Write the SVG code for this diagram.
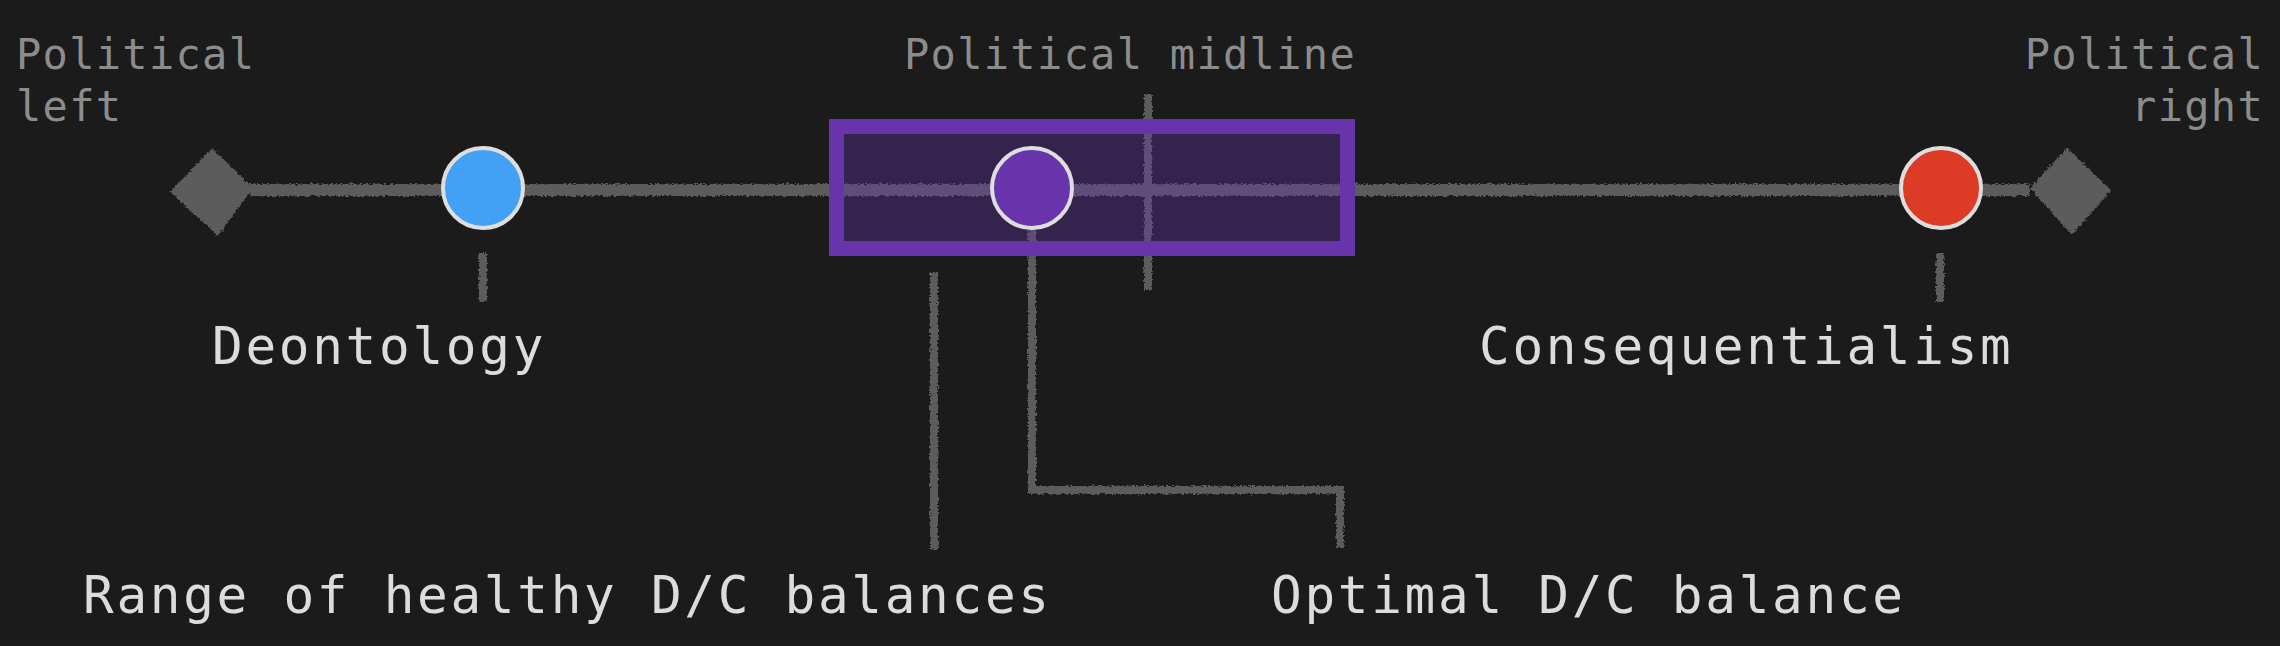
<svg xmlns="http://www.w3.org/2000/svg" width="2280" height="646" viewBox="0 0 2280 646">
<defs>
<filter id="rough" filterUnits="userSpaceOnUse" x="0" y="0" width="2280" height="646">
<feTurbulence type="fractalNoise" baseFrequency="0.45" numOctaves="2" seed="3" result="n"/>
<feDisplacementMap in="SourceGraphic" in2="n" scale="5" xChannelSelector="R" yChannelSelector="G"/>
</filter>
<style>
.bg{fill:#1b1b1b}
.ln{stroke:#5b5b5b;stroke-width:12;fill:none;stroke-linecap:butt}
.thin{stroke:#5b5b5b;stroke-width:8;fill:none}
.dia{fill:#5b5b5b}
.node{stroke:#dedede;stroke-width:4}
.top{font-family:"DejaVu Sans Mono","Liberation Mono",monospace;font-size:42px;letter-spacing:1.3px;fill:#8c8c8c}
.lbl{font-family:"DejaVu Sans Mono","Liberation Mono",monospace;font-size:51px;letter-spacing:2.7px;fill:#dcdcdc}
</style>
</defs>
<rect class="bg" x="0" y="0" width="2280" height="646"/>

<g id="connectors" filter="url(#rough)">
<line class="ln" x1="250" y1="190" x2="2030" y2="190"/>
<polygon class="dia" points="170,192 212,148 253,188 218,236"/>
<polygon class="dia" points="2030,188 2067,148 2111,190 2072,235"/>
<line class="thin" x1="483" y1="253" x2="483" y2="302"/>
<line class="thin" x1="1940" y1="253" x2="1940" y2="302"/>
<line class="thin" x1="1148" y1="94" x2="1148" y2="290"/>
<line class="thin" x1="934" y1="272" x2="934" y2="549"/>
<polyline class="thin" points="1032,229 1032,490 1340,490 1340,548"/>
</g>

<g id="range">
<rect x="836.5" y="126.5" width="511" height="122" fill="#6734ac" fill-opacity="0.34" stroke="#6734ac" stroke-width="15"/>
</g>

<g id="deontology">
<circle class="node" cx="483" cy="188" r="40" fill="#43a1f5"/>
</g>
<g id="optimal">
<circle class="node" cx="1032" cy="188" r="40" fill="#6734ac"/>
</g>
<g id="consequentialism">
<circle class="node" cx="1941" cy="188" r="40" fill="#dc3b26"/>
</g>

<g id="labels">
<text class="top" x="16" y="69">Political</text>
<text class="top" x="16" y="121">left</text>
<text class="top" x="904" y="69">Political midline</text>
<text class="top" x="2264" y="69" text-anchor="end">Political</text>
<text class="top" x="2264" y="121" text-anchor="end">right</text>
<text class="lbl" x="212" y="364">Deontology</text>
<text class="lbl" x="1479" y="364">Consequentialism</text>
<text class="lbl" x="83" y="613">Range of healthy D/C balances</text>
<text class="lbl" x="1271" y="613">Optimal D/C balance</text>
</g>
</svg>
